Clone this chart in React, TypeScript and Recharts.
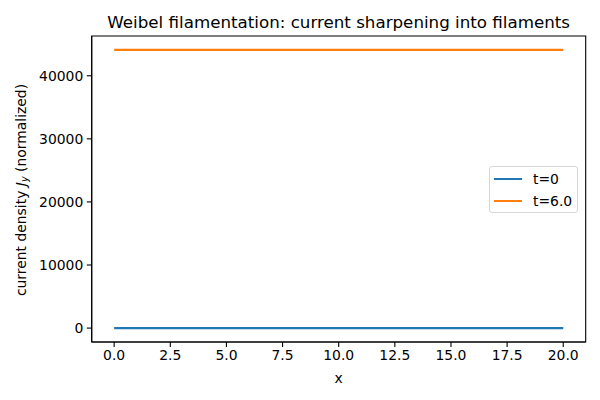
import { LineChart, Line, XAxis, YAxis, ReferenceArea } from "recharts";

// sampled x positions and current density at each time
const xs = [0, 2.5, 5, 7.5, 10, 12.5, 15, 17.5, 20];
const jyT0 = [0, 0, 0, 0, 0, 0, 0, 0, 0];
const jyT6 = [44100, 44100, 44100, 44100, 44100, 44100, 44100, 44100, 44100];

const xTicks = [0, 2.5, 5, 7.5, 10, 12.5, 15, 17.5, 20];
const yTicks = [0, 10000, 20000, 30000, 40000];

const seriesNames = ["t=0", "t=6.0"];
const COLORS = ["#1f77b4", "#ff7f0e"];

const rows = xs.map((x, i) => ({ x, t0: jyT0[i], t6: jyT6[i] }));

const X_DOMAIN = [-1, 21];
const Y_DOMAIN = [-2205, 46305];

const FONT = "DejaVu Sans, sans-serif";

const YLabel = () => (
  <text
    x={20.5}
    y={190}
    transform="rotate(-90 20.5 190)"
    textAnchor="middle"
    dominantBaseline="central"
    fontFamily={FONT}
    fontSize={13.9}
    fill="#000"
  >
    current density <tspan fontStyle="italic">J</tspan>
    <tspan fontStyle="italic" fontSize={9.7} dy={3}>y</tspan>
    <tspan dy={-3}> (normalized)</tspan>
  </text>
);

const LegendBox = () => (
  <div
    style={{
      position: "absolute",
      top: 166,
      left: 489,
      width: 89,
      height: 47,
      border: "1px solid #d6d6d6",
      borderRadius: 3,
      background: "rgba(255,255,255,0.8)",
      fontFamily: FONT,
      fontSize: 13.9,
      boxSizing: "border-box",
      paddingTop: 1,
    }}
  >
    {seriesNames.map((name, i) => (
      <div key={name} style={{ display: "flex", alignItems: "center", height: 22 }}>
        <div style={{ width: 28, height: 2, background: COLORS[i], marginLeft: 4, marginRight: 11 }} />
        <span>{name}</span>
      </div>
    ))}
  </div>
);

export default function App() {
  return (
    <div style={{ margin: -8, width: 600, height: 400, background: "#fff", position: "relative" }}>
      <div
        style={{
          position: "absolute",
          top: 12,
          left: 91.7,
          width: 494,
          textAlign: "center",
          fontFamily: FONT,
          fontSize: 16.7,
          lineHeight: "20px",
          color: "#000",
        }}
      >
        Weibel filamentation: current sharpening into filaments
      </div>
      <LineChart
        width={600}
        height={400}
        data={rows}
        margin={{ top: 36, right: 14.3, bottom: 28, left: 11.7 }}
      >
        <XAxis
          dataKey="x"
          type="number"
          domain={X_DOMAIN}
          ticks={xTicks}
          tickFormatter={(v: number) => v.toFixed(1)}
          height={30}
          tickSize={4.9}
          tickMargin={3.5}
          axisLine={{ stroke: "#000", strokeWidth: 1.1 }}
          tickLine={{ stroke: "#000", strokeWidth: 1.1 }}
          tick={{ fill: "#000", fontFamily: FONT, fontSize: 13.9 }}
          allowDataOverflow
          label={{ value: "x", position: "insideBottom", offset: -11, fill: "#000", fontFamily: FONT, fontSize: 13.9 }}
        />
        <YAxis
          type="number"
          domain={Y_DOMAIN}
          ticks={yTicks}
          width={80}
          tickSize={4.9}
          tickMargin={3.5}
          axisLine={{ stroke: "#000", strokeWidth: 1.1 }}
          tickLine={{ stroke: "#000", strokeWidth: 1.1 }}
          tick={{ fill: "#000", fontFamily: FONT, fontSize: 13.9 }}
          allowDataOverflow
          label={<YLabel />}
        />
        <ReferenceArea
          x1={X_DOMAIN[0]}
          x2={X_DOMAIN[1]}
          y1={Y_DOMAIN[0]}
          y2={Y_DOMAIN[1]}
          fill="none"
          stroke="#000"
          strokeWidth={1.1}
          ifOverflow="visible"
        />
        <Line
          dataKey="t0"
          name={seriesNames[0]}
          stroke={COLORS[0]}
          strokeWidth={2.1}
          dot={false}
          isAnimationActive={false}
        />
        <Line
          dataKey="t6"
          name={seriesNames[1]}
          stroke={COLORS[1]}
          strokeWidth={2.1}
          dot={false}
          isAnimationActive={false}
        />
      </LineChart>
      <LegendBox />
    </div>
  );
}
